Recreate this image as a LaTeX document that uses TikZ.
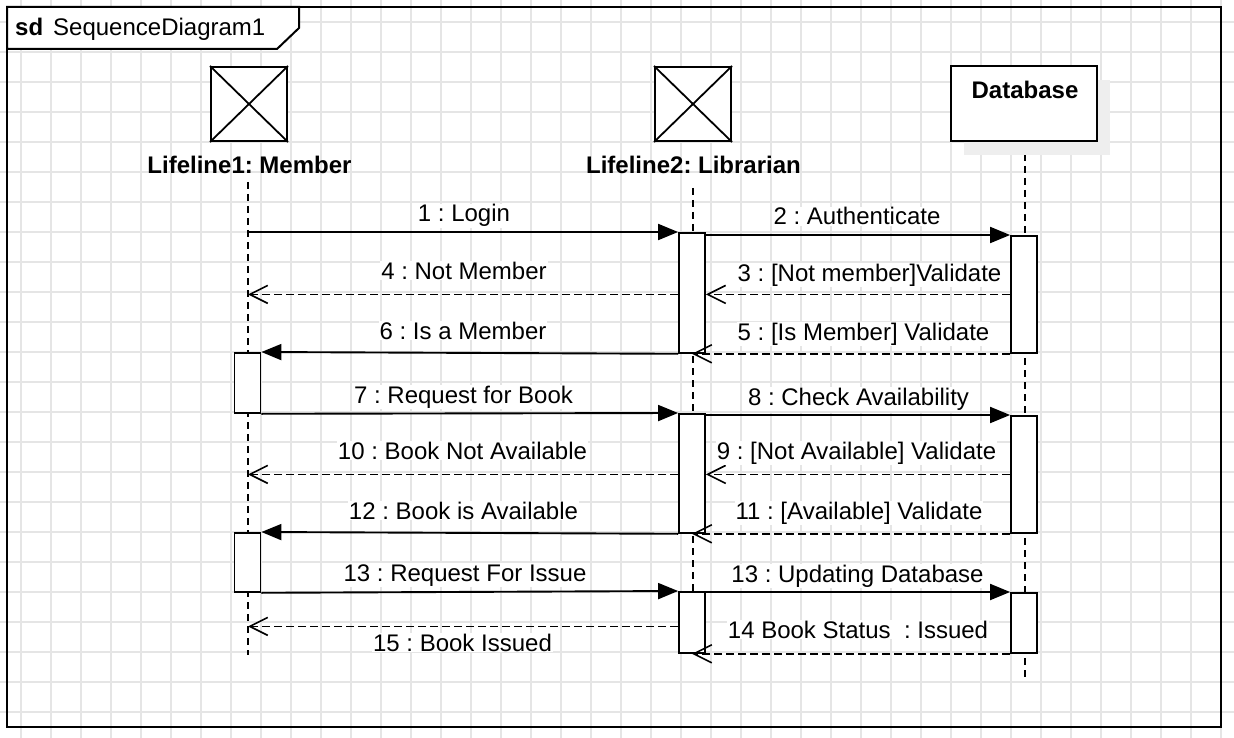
\documentclass[tikz,border=0pt]{standalone}
\usepackage{fontspec}
\setmainfont{Liberation Sans}
\usetikzlibrary{arrows.meta}
\definecolor{gridc}{RGB}{229,229,229}
\definecolor{shadowc}{RGB}{238,238,238}
\tikzset{
  gridline/.style={draw=gridc, line width=1.4pt},
  txt/.style={font=\fontsize{24}{28}\selectfont\frenchspacing},
  btxt/.style={font=\fontsize{24}{28}\selectfont\bfseries\frenchspacing},
  headbox/.style={draw=black, line width=2pt, fill=white, inner sep=0pt},
  crossline/.style={line width=1.8pt},
  actbox/.style={draw=black, line width=1.8pt, fill=white, minimum width=26pt, inner sep=0pt, anchor=north},
  lifel/.style={line width=1.6pt, dash pattern=on 7pt off 5pt},
  sync/.style={line width=1.9pt, -{Triangle[length=20pt,width=16pt]}},
  reply/.style={line width=1.6pt, dash pattern=on 8pt off 4pt, -{Straight Barb[length=18pt,width=18pt,line width=1.6pt]}},
  lbl/.style={txt, fill=white, inner sep=1pt, anchor=base},
}
\begin{document}
\begin{tikzpicture}[x=1pt,y=-1pt]
\useasboundingbox (0,0) rectangle (1234,738);
\fill[white] (0,0) rectangle (1234,738);
% grid
\foreach \i in {0,...,40} \draw[gridline] (21+30*\i,0) -- (21+30*\i,738);
\foreach \j in {0,...,23} \draw[gridline] (0,22+30*\j) -- (1234,22+30*\j);
% frame
\draw[line width=2pt] (7,7) rectangle (1221,727);
\draw[line width=2pt, fill=white] (7,7) -- (299,7) -- (299,28) -- (277,49) -- (7,49) -- cycle;
\node[btxt, anchor=base west, inner sep=0pt] (sd) at (15,36) {sd};
\node[txt, anchor=base west, inner sep=0pt] (title) at (53,36) {SequenceDiagram1};
% lifelines
\coordinate (m1top) at (248,182);
\coordinate (m1bot) at (248,655);
\coordinate (l2top) at (693,188);
\coordinate (l2bot) at (693,655);
\coordinate (d3top) at (1025,142);
\coordinate (d3bot) at (1025,680);
\draw[lifel] (m1top) -- (m1bot);
\draw[lifel] (l2top) -- (l2bot);
\draw[lifel] (d3top) -- (d3bot);
% heads
\node[headbox, minimum width=76pt, minimum height=74pt] (h1) at (249,104) {};
\draw[crossline] (h1.north west) -- (h1.south east) (h1.north east) -- (h1.south west);
\node[btxt, anchor=base, inner sep=0pt] (n1) at (249.5,174) {Lifeline1: Member};
\node[headbox, minimum width=76pt, minimum height=74pt] (h2) at (693,104) {};
\draw[crossline] (h2.north west) -- (h2.south east) (h2.north east) -- (h2.south west);
\node[btxt, anchor=base, inner sep=0pt] (n2) at (693.5,174) {Lifeline2: Librarian};
\fill[shadowc] (964,80) rectangle (1110,155);
\node[headbox, minimum width=146pt, minimum height=75pt] (db) at (1024,104) {};
\node[btxt, anchor=base, inner sep=0pt] (dbl) at (1025,99) {Database};
% activations
\node[actbox, minimum height=120pt] (aL1) at (692,232) {};
\node[actbox, minimum height=117pt] (aD1) at (1024,235) {};
\node[actbox, minimum height=60pt] (aM1) at (247.5,352) {};
\node[actbox, minimum height=119pt] (aL2) at (692,413) {};
\node[actbox, minimum height=117pt] (aD2) at (1024,415) {};
\node[actbox, minimum height=59pt] (aM2) at (247.5,532) {};
\node[actbox, minimum height=61pt] (aL3) at (692,591) {};
\node[actbox, minimum height=60pt] (aD3) at (1024,592) {};
% messages
\draw[sync] (m1top |- aL1.north west) -- (aL1.north west);
\draw[sync] (aL1.east |- aD1.north west) -- (aD1.north west);
\draw[reply] (aD1.west) -- (aL1.east |- aD1.west);
\draw[reply] (aL1.west |- aD1.west) -- (m1top |- aD1.west);
\draw[reply] (aD1.south west) -- (aL1.south);
\draw[sync] (aL1.south west) -- (aM1.north east);
\draw[sync] (aM1.south east) -- (aL2.north west);
\draw[sync] (aL2.east |- aD2.north west) -- (aD2.north west);
\draw[reply] (aD2.west) -- (aL2.east |- aD2.west);
\draw[reply] (aL2.west |- aD2.west) -- (m1top |- aD2.west);
\draw[reply] (aD2.south west) -- (aL2.south);
\draw[sync] (aL2.south west) -- (aM2.north east);
\draw[sync] (aM2.south east) -- (aL3.north west);
\draw[sync] (aL3.east |- aD3.north west) -- (aD3.north west);
\draw[reply] (aD3.south west) -- (aL3.south);
\coordinate (r15) at ([yshift=-4pt]aL3.west);
\draw[reply] (r15) -- (m1top |- r15);
% labels
\node[lbl] (t1) at (464,222) {1 : Login};
\node[lbl] (t2) at (857,225) {2 : Authenticate};
\node[lbl] (t3) at (869.5,281) {3 : [Not member]Validate};
\node[lbl] (t4) at (464,279) {4 : Not Member};
\node[lbl] (t5) at (863.5,340) {5 : [Is Member] Validate};
\node[lbl] (t6) at (463,339) {6 : Is a Member};
\node[lbl] (t7) at (463.5,403) {7 : Request for Book};
\node[lbl] (t8) at (858.5,405) {8 : Check Availability};
\node[lbl] (t9) at (856.5,459) {9 : [Not Available] Validate};
\node[lbl] (t10) at (462.5,459) {10 : Book Not Available};
\node[lbl] (t11) at (859,519) {11 : [Available] Validate};
\node[lbl] (t12) at (463.5,519) {12 : Book is Available};
\node[lbl] (t13) at (465,581) {13 : Request For Issue};
\node[lbl] (t13b) at (857.5,582) {13 : Updating Database};
\node[lbl] (t14) at (858,638) {14 Book Status\ \ : Issued};
\node[lbl] (t15) at (462.5,651) {15 : Book Issued};
\end{tikzpicture}
\end{document}
